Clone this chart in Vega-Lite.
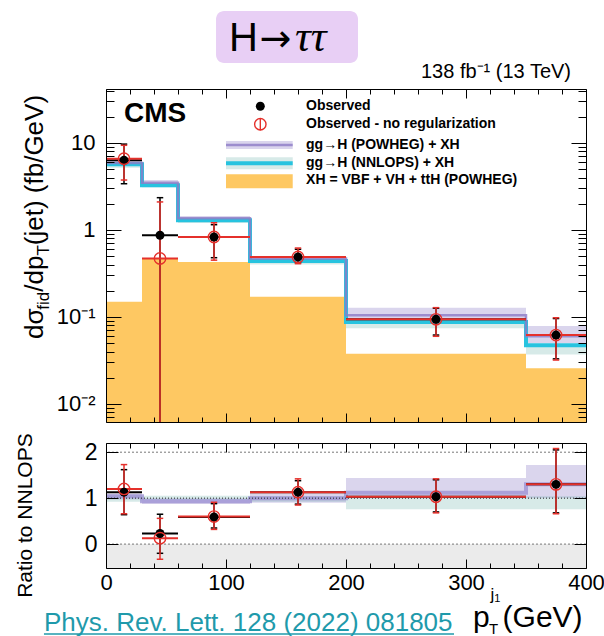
{
"$schema": "https://vega.github.io/schema/vega-lite/v6.json",
"background": "white",
"padding": {"left": 14, "top": 10, "right": 0, "bottom": 0},
"spacing": 21,
"bounds": "flush",
"config": {"view": {"stroke": null}, "font": "Liberation Sans",
  "axis": {"domainColor": "#000", "domainWidth": 1, "tickColor": "#000", "tickWidth": 1, "labelColor": "#000", "labelFont": "Liberation Sans", "grid": false}},
"datasets": {
 "bins": [
  {"lo":0,"hi":30,"xc":15,"xh":0.150,"nnLo":5.2,"nnHi":5.95,"pwLo":5.5,"pwHi":6.3,"obs":6.33,"obsLo":3.4,"obsHi":9.7,"nr":6.6,"nrLo":3.75,"nrHi":9.4,"rObs":1.13,"rObsLo":0.64,"rObsHi":1.62,"rNr":1.2,"rNrLo":0.66,"rNrHi":1.73,"rPwLo":0.97,"rPwHi":1.10,"rNnLo":0.92,"rNnHi":1.06},
  {"lo":30,"hi":60,"xc":45,"xh":0.476,"nnLo":3.1,"nnHi":3.35,"pwLo":3.3,"pwHi":3.75,"obs":0.87,"obsLo":0.0001,"obsHi":2.35,"nr":0.47,"nrLo":0.0001,"nrHi":2.1,"rObs":0.23,"rObsLo":-0.2,"rObsHi":0.65,"rNr":0.13,"rNrLo":-0.33,"rNrHi":0.56,"rPwLo":0.87,"rPwHi":1.0,"rNnLo":0.96,"rNnHi":1.05},
  {"lo":60,"hi":120,"xc":90,"xh":0.428,"nnLo":1.2,"nnHi":1.32,"pwLo":1.29,"pwHi":1.45,"obs":0.83,"obsLo":0.48,"obsHi":1.15,"nr":0.83,"nrLo":0.45,"nrHi":1.21,"rObs":0.59,"rObsLo":0.35,"rObsHi":0.88,"rNr":0.6,"rNrLo":0.32,"rNrHi":0.91,"rPwLo":0.87,"rPwHi":1.0,"rNnLo":0.96,"rNnHi":1.05},
  {"lo":120,"hi":200,"xc":160,"xh":0.171,"nnLo":0.40,"nnHi":0.45,"pwLo":0.44,"pwHi":0.50,"obs":0.49,"obsLo":0.42,"obsHi":0.6,"nr":0.49,"nrLo":0.41,"nrHi":0.62,"rObs":1.13,"rObsLo":0.87,"rObsHi":1.38,"rNr":1.13,"rNrLo":0.85,"rNrHi":1.42,"rPwLo":0.9,"rPwHi":1.1,"rNnLo":0.92,"rNnHi":1.04},
  {"lo":200,"hi":350,"xc":275,"xh":0.0379,"nnLo":0.074,"nnHi":0.09,"pwLo":0.09,"pwHi":0.128,"obs":0.094,"obsLo":0.062,"obsHi":0.126,"nr":0.094,"nrLo":0.06,"nrHi":0.128,"rObs":1.03,"rObsLo":0.7,"rObsHi":1.4,"rNr":1.03,"rNrLo":0.68,"rNrHi":1.42,"rPwLo":1.0,"rPwHi":1.44,"rNnLo":0.76,"rNnHi":1.04},
  {"lo":350,"hi":400,"xc":375,"xh":0.0257,"nnLo":0.037,"nnHi":0.048,"pwLo":0.05,"pwHi":0.079,"obs":0.062,"obsLo":0.033,"obsHi":0.096,"nr":0.062,"nrLo":0.032,"nrHi":0.098,"rObs":1.3,"rObsLo":0.68,"rObsHi":2.05,"rNr":1.3,"rNrLo":0.66,"rNrHi":2.08,"rPwLo":1.0,"rPwHi":1.72,"rNnLo":0.76,"rNnHi":1.04}
 ],
 "edges": [
  {"e":0,"nn":5.69,"pw":5.9,"rPw":1.04},
  {"e":30,"nn":3.27,"pw":3.5,"rPw":0.93},
  {"e":60,"nn":1.29,"pw":1.36,"rPw":0.93},
  {"e":120,"nn":0.44,"pw":0.47,"rPw":1.0},
  {"e":200,"nn":0.0877,"pw":0.105,"rPw":1.12},
  {"e":350,"nn":0.0473,"pw":0.06,"rPw":1.3},
  {"e":400,"nn":0.0473,"pw":0.06,"rPw":1.3}
 ]
},
"vconcat": [
{
 "width": 480, "height": 333,
 "resolve": {"axis": {"x": "independent", "y": "independent"}},
 "layer": [
  {"data": {"name": "bins"}, "mark": {"type": "rect", "fill": "#fec862"},
   "encoding": {
    "x": {"field": "lo", "type": "quantitative", "scale": {"domain": [0,400], "nice": false, "zero": false},
          "axis": {"orient": "bottom", "values": [0,100,200,300,400], "labels": false, "tickSize": -9, "domain": true, "title": null, "zindex": 1}},
    "x2": {"field": "hi"},
    "y": {"field": "xh", "type": "quantitative", "scale": {"type": "log", "domain": [0.00621, 41.7], "nice": false},
          "axis": {"orient": "left", "values": [0.01,0.1,1,10], "ticks": false, "domain": false, "title": null, "labelFontSize": 22, "labelPadding": 11, "labelOverlap": false, "labelFlush": false,
                   "labelExpr": "datum.value > 5 ? '10' : datum.value > 0.5 ? '1' : datum.value > 0.05 ? '10⁻¹' : '10⁻²'"}},
    "y2": {"datum": 0.00621}}},
  {"data": {"name": "bins"}, "mark": {"type": "rect", "fill": "#8c7bc6", "opacity": 0.32},
   "encoding": {
    "x": {"field": "lo", "type": "quantitative", "scale": {"domain": [0,400], "nice": false, "zero": false},
          "axis": {"orient": "top", "values": [0,100,200,300,400], "labels": false, "tickSize": -9, "domain": true, "title": null, "zindex": 1}},
    "x2": {"field": "hi"},
    "y": {"field": "pwLo", "type": "quantitative", "scale": {"type": "log", "domain": [0.00621, 41.7], "nice": false},
          "axis": {"orient": "left", "values": [0.01,0.1,1,10], "labels": false, "tickSize": -15, "domain": true, "title": null, "zindex": 1}},
    "y2": {"field": "pwHi"}}},
  {"data": {"name": "bins"}, "mark": {"type": "rect", "fill": "#6fb5ad", "opacity": 0.28},
   "encoding": {
    "x": {"field": "lo", "type": "quantitative", "scale": {"domain": [0,400], "nice": false, "zero": false},
          "axis": {"orient": "bottom", "values": [20,40,60,80,120,140,160,180,220,240,260,280,320,340,360,380], "labels": false, "tickSize": -5, "domain": false, "title": null, "zindex": 1}},
    "x2": {"field": "hi"},
    "y": {"field": "nnLo", "type": "quantitative", "scale": {"type": "log", "domain": [0.00621, 41.7], "nice": false},
          "axis": {"orient": "right", "values": [0.01,0.1,1,10], "labels": false, "tickSize": -15, "domain": true, "title": null, "zindex": 1}},
    "y2": {"field": "nnHi"}}},
  {"data": {"name": "edges"}, "mark": {"type": "line", "interpolate": "step-after", "stroke": "#27c3df", "strokeWidth": 4},
   "encoding": {
    "x": {"field": "e", "type": "quantitative", "scale": {"domain": [0,400], "nice": false, "zero": false},
          "axis": {"orient": "top", "values": [20,40,60,80,120,140,160,180,220,240,260,280,320,340,360,380], "labels": false, "tickSize": -5, "domain": false, "title": null, "zindex": 1}},
    "y": {"field": "nn", "type": "quantitative", "scale": {"type": "log", "domain": [0.00621, 41.7], "nice": false},
          "axis": {"orient": "left", "values": [0.007,0.008,0.009,0.02,0.03,0.04,0.05,0.06,0.07,0.08,0.09,0.2,0.3,0.4,0.5,0.6,0.7,0.8,0.9,2,3,4,5,6,7,8,9,20,30,40], "labels": false, "tickSize": -8, "domain": false, "title": null, "zindex": 1}}}},
  {"data": {"name": "edges"}, "mark": {"type": "line", "interpolate": "step-after", "stroke": "#8c7bc6", "strokeWidth": 2.5, "opacity": 0.8},
   "encoding": {
    "x": {"field": "e", "type": "quantitative", "scale": {"domain": [0,400], "nice": false, "zero": false}, "axis": null},
    "y": {"field": "pw", "type": "quantitative", "scale": {"type": "log", "domain": [0.00621, 41.7], "nice": false},
          "axis": {"orient": "right", "values": [0.007,0.008,0.009,0.02,0.03,0.04,0.05,0.06,0.07,0.08,0.09,0.2,0.3,0.4,0.5,0.6,0.7,0.8,0.9,2,3,4,5,6,7,8,9,20,30,40], "labels": false, "tickSize": -8, "domain": false, "title": null, "zindex": 1}}}},
  {"data": {"name": "bins"}, "mark": {"type": "rule", "stroke": "#000", "strokeWidth": 2, "clip": true},
   "encoding": {"x": {"field": "lo", "type": "quantitative", "axis": null}, "x2": {"field": "hi"}, "y": {"field": "obs", "type": "quantitative", "axis": null}}},
  {"data": {"name": "bins"}, "mark": {"type": "rule", "stroke": "#000", "strokeWidth": 1.5, "clip": true},
   "encoding": {"x": {"field": "xc", "type": "quantitative", "axis": null}, "y": {"field": "obsLo", "type": "quantitative", "axis": null}, "y2": {"field": "obsHi"}}},
  {"data": {"name": "bins"}, "mark": {"type": "point", "shape": "M-1,0L1,0", "size": 42, "filled": false, "stroke": "#000", "strokeWidth": 1.5, "opacity": 1, "clip": true},
   "encoding": {"x": {"field": "xc", "type": "quantitative", "axis": null}, "y": {"field": "obsLo", "type": "quantitative", "axis": null}}},
  {"data": {"name": "bins"}, "mark": {"type": "point", "shape": "M-1,0L1,0", "size": 42, "filled": false, "stroke": "#000", "strokeWidth": 1.5, "opacity": 1, "clip": true},
   "encoding": {"x": {"field": "xc", "type": "quantitative", "axis": null}, "y": {"field": "obsHi", "type": "quantitative", "axis": null}}},
  {"data": {"name": "bins"}, "mark": {"type": "rule", "stroke": "#e5302b", "strokeWidth": 2, "clip": true},
   "encoding": {"x": {"field": "lo", "type": "quantitative", "axis": null}, "x2": {"field": "hi"}, "y": {"field": "nr", "type": "quantitative", "axis": null}}},
  {"data": {"name": "bins"}, "mark": {"type": "rule", "stroke": "#e5302b", "strokeWidth": 1.5, "clip": true},
   "encoding": {"x": {"field": "xc", "type": "quantitative", "axis": null}, "y": {"field": "nrLo", "type": "quantitative", "axis": null}, "y2": {"field": "nrHi"}}},
  {"data": {"name": "bins"}, "mark": {"type": "point", "shape": "M-1,0L1,0", "size": 42, "filled": false, "stroke": "#e5302b", "strokeWidth": 1.5, "opacity": 1, "clip": true},
   "encoding": {"x": {"field": "xc", "type": "quantitative", "axis": null}, "y": {"field": "nrLo", "type": "quantitative", "axis": null}}},
  {"data": {"name": "bins"}, "mark": {"type": "point", "shape": "M-1,0L1,0", "size": 42, "filled": false, "stroke": "#e5302b", "strokeWidth": 1.5, "opacity": 1, "clip": true},
   "encoding": {"x": {"field": "xc", "type": "quantitative", "axis": null}, "y": {"field": "nrHi", "type": "quantitative", "axis": null}}},
  {"data": {"name": "bins"}, "mark": {"type": "point", "shape": "circle", "size": 80, "filled": true, "fill": "#000", "opacity": 1},
   "encoding": {"x": {"field": "xc", "type": "quantitative", "axis": null}, "y": {"field": "obs", "type": "quantitative", "axis": null}}},
  {"data": {"name": "bins"}, "mark": {"type": "point", "shape": "circle", "size": 130, "filled": false, "stroke": "#e5302b", "strokeWidth": 1.4, "opacity": 1},
   "encoding": {"x": {"field": "xc", "type": "quantitative", "axis": null}, "y": {"field": "nr", "type": "quantitative", "axis": null}}},
  {"data": {"values": [{"a":100,"b":155.6,"c":8.53,"d":10.5}]}, "mark": {"type": "rect", "fill": "#8c7bc6", "opacity": 0.32},
   "encoding": {"x": {"field": "a", "type": "quantitative", "axis": null}, "x2": {"field": "b"}, "y": {"field": "c", "type": "quantitative", "axis": null}, "y2": {"field": "d"}}},
  {"data": {"values": [{"a":100,"b":155.6,"c":9.5}]}, "mark": {"type": "rule", "stroke": "#8c7bc6", "strokeWidth": 2.5, "opacity": 0.8},
   "encoding": {"x": {"field": "a", "type": "quantitative", "axis": null}, "x2": {"field": "b"}, "y": {"field": "c", "type": "quantitative", "axis": null}}},
  {"data": {"values": [{"a":100,"b":155.6,"c":4.99,"d":6.85}]}, "mark": {"type": "rect", "fill": "#6fb5ad", "opacity": 0.28},
   "encoding": {"x": {"field": "a", "type": "quantitative", "axis": null}, "x2": {"field": "b"}, "y": {"field": "c", "type": "quantitative", "axis": null}, "y2": {"field": "d"}}},
  {"data": {"values": [{"a":100,"b":155.6,"c":5.85}]}, "mark": {"type": "rule", "stroke": "#27c3df", "strokeWidth": 4},
   "encoding": {"x": {"field": "a", "type": "quantitative", "axis": null}, "x2": {"field": "b"}, "y": {"field": "c", "type": "quantitative", "axis": null}}},
  {"data": {"values": [{"a":100,"b":155.6,"c":3.02,"d":4.37}]}, "mark": {"type": "rect", "fill": "#fec862"},
   "encoding": {"x": {"field": "a", "type": "quantitative", "axis": null}, "x2": {"field": "b"}, "y": {"field": "c", "type": "quantitative", "axis": null}, "y2": {"field": "d"}}},
  {"data": {"values": [{"a":128.6,"c":26.4}]}, "mark": {"type": "point", "shape": "circle", "size": 80, "filled": true, "fill": "#000", "opacity": 1},
   "encoding": {"x": {"field": "a", "type": "quantitative", "axis": null}, "y": {"field": "c", "type": "quantitative", "axis": null}}},
  {"data": {"values": [{"a":128.6,"c":16.4}]}, "mark": {"type": "point", "shape": "circle", "size": 130, "filled": false, "stroke": "#e5302b", "strokeWidth": 1.4, "opacity": 1},
   "encoding": {"x": {"field": "a", "type": "quantitative", "axis": null}, "y": {"field": "c", "type": "quantitative", "axis": null}}},
  {"data": {"values": [{"a":128.6,"c":16.4}]}, "mark": {"type": "point", "shape": "M0,-1L0,1", "size": 144, "filled": false, "stroke": "#e5302b", "strokeWidth": 1.4, "opacity": 1},
   "encoding": {"x": {"field": "a", "type": "quantitative", "axis": null}, "y": {"field": "c", "type": "quantitative", "axis": null}}},
  {"data": {"values": [{"x":15,"y":17.4,"t":"CMS"}]}, "mark": {"type": "text", "font": "Liberation Sans", "fontSize": 28, "fontWeight": "bold", "align": "left", "baseline": "alphabetic", "color": "#000"},
   "encoding": {"x": {"field": "x", "type": "quantitative", "axis": null}, "y": {"field": "y", "type": "quantitative", "axis": null}, "text": {"field": "t"}}},
  {"data": {"values": [
     {"x":166.7,"y":26.4,"t":"Observed"},
     {"x":166.7,"y":16.4,"t":"Observed - no regularization"},
     {"x":166.7,"y":9.5,"t":"gg→H (POWHEG) + XH"},
     {"x":166.7,"y":5.85,"t":"gg→H (NNLOPS) + XH"},
     {"x":166.7,"y":3.76,"t":"XH = VBF + VH + ttH (POWHEG)"}]},
   "mark": {"type": "text", "font": "Liberation Sans", "fontSize": 14, "fontWeight": "bold", "align": "left", "baseline": "middle", "color": "#000"},
   "encoding": {"x": {"field": "x", "type": "quantitative", "axis": null}, "y": {"field": "y", "type": "quantitative", "axis": null}, "text": {"field": "t"}}},
  {"data": {"values": [{"x":387.5,"y":55.9,"t":"138 fb⁻¹ (13 TeV)"}]}, "mark": {"type": "text", "font": "Liberation Sans", "fontSize": 20, "align": "right", "baseline": "alphabetic", "color": "#000"},
   "encoding": {"x": {"field": "x", "type": "quantitative", "axis": null}, "y": {"field": "y", "type": "quantitative", "axis": null}, "text": {"field": "t"}}},
  {"data": {"values": [{"a":91.7,"b":210,"c":83.2,"d":329}]}, "mark": {"type": "rect", "fill": "#e8cff5", "cornerRadius": 8},
   "encoding": {"x": {"field": "a", "type": "quantitative", "axis": null}, "x2": {"field": "b"}, "y": {"field": "c", "type": "quantitative", "axis": null}, "y2": {"field": "d"}}},
  {"data": {"values": [{"x":102.5,"y":115,"t":"H"}]}, "mark": {"type": "text", "font": "Liberation Sans", "fontSize": 40, "align": "left", "baseline": "alphabetic", "color": "#000"},
   "encoding": {"x": {"field": "x", "type": "quantitative", "axis": null}, "y": {"field": "y", "type": "quantitative", "axis": null}, "text": {"field": "t"}}},
  {"data": {"values": [{"x":128,"y":115,"t":"→"}]}, "mark": {"type": "text", "font": "DejaVu Sans", "fontSize": 38, "align": "left", "baseline": "alphabetic", "color": "#000"},
   "encoding": {"x": {"field": "x", "type": "quantitative", "axis": null}, "y": {"field": "y", "type": "quantitative", "axis": null}, "text": {"field": "t"}}},
  {"data": {"values": [{"x":157.5,"y":115,"t":"ττ"}]}, "mark": {"type": "text", "font": "Liberation Serif", "fontSize": 44, "fontStyle": "italic", "align": "left", "baseline": "alphabetic", "color": "#000"},
   "encoding": {"x": {"field": "x", "type": "quantitative", "axis": null}, "y": {"field": "y", "type": "quantitative", "axis": null}, "text": {"field": "t"}}},
  {"data": {"values": [{"x":-52.75,"y":0.05587,"t":"dσ"},{"x":-52.75,"y":0.1953,"t":"/dp"},{"x":-52.75,"y":0.6688,"t":"(jet) (fb/GeV)"}]},
   "mark": {"type": "text", "font": "Liberation Sans", "fontSize": 26, "angle": 270, "align": "left", "baseline": "alphabetic", "color": "#000"},
   "encoding": {"x": {"field": "x", "type": "quantitative", "axis": null}, "y": {"field": "y", "type": "quantitative", "axis": null}, "text": {"field": "t"}}},
  {"data": {"values": [{"x":-47.9,"y":0.1213,"t":"fid"},{"x":-47.9,"y":0.5078,"t":"T"}]},
   "mark": {"type": "text", "font": "Liberation Sans", "fontSize": 17, "angle": 270, "align": "left", "baseline": "alphabetic", "color": "#000"},
   "encoding": {"x": {"field": "x", "type": "quantitative", "axis": null}, "y": {"field": "y", "type": "quantitative", "axis": null}, "text": {"field": "t"}}}
 ]
},
{
 "width": 480, "height": 125,
 "resolve": {"axis": {"x": "independent", "y": "independent"}},
 "layer": [
  {"data": {"values": [{"a":0,"b":400,"c":-0.52,"d":0}]}, "mark": {"type": "rect", "fill": "#cfcfcf", "opacity": 0.42},
   "encoding": {
    "x": {"field": "a", "type": "quantitative", "scale": {"domain": [0,400], "nice": false, "zero": false},
          "axis": {"orient": "bottom", "values": [0,100,200,300,400], "ticks": false, "domain": false, "title": null, "labelFontSize": 22, "labelPadding": 4, "labelFlush": false, "labelOverlap": false}},
    "x2": {"field": "b"},
    "y": {"field": "c", "type": "quantitative", "scale": {"domain": [-0.52, 2.2], "nice": false, "zero": false},
          "axis": {"orient": "left", "values": [0,1,2], "ticks": false, "domain": false, "title": null, "labelFontSize": 23, "labelPadding": 9, "labelFlush": false, "labelOverlap": false}},
    "y2": {"field": "d"}}},
  {"data": {"name": "bins"}, "mark": {"type": "rect", "fill": "#8c7bc6", "opacity": 0.32},
   "encoding": {
    "x": {"field": "lo", "type": "quantitative", "scale": {"domain": [0,400], "nice": false, "zero": false},
          "axis": {"orient": "bottom", "values": [0,100,200,300,400], "labels": false, "tickSize": -9, "domain": true, "title": null, "zindex": 1}},
    "x2": {"field": "hi"},
    "y": {"field": "rPwLo", "type": "quantitative", "scale": {"domain": [-0.52, 2.2], "nice": false, "zero": false},
          "axis": {"orient": "left", "values": [0,1,2], "labels": false, "tickSize": -12, "domain": true, "title": null, "zindex": 1}},
    "y2": {"field": "rPwHi"}}},
  {"data": {"name": "bins"}, "mark": {"type": "rect", "fill": "#6fb5ad", "opacity": 0.28},
   "encoding": {
    "x": {"field": "lo", "type": "quantitative", "scale": {"domain": [0,400], "nice": false, "zero": false},
          "axis": {"orient": "top", "values": [0,100,200,300,400], "labels": false, "tickSize": -9, "domain": true, "title": null, "zindex": 1}},
    "x2": {"field": "hi"},
    "y": {"field": "rNnLo", "type": "quantitative", "scale": {"domain": [-0.52, 2.2], "nice": false, "zero": false},
          "axis": {"orient": "right", "values": [0,1,2], "labels": false, "tickSize": -12, "domain": true, "title": null, "zindex": 1}},
    "y2": {"field": "rNnHi"}}},
  {"data": {"name": "edges"}, "mark": {"type": "line", "interpolate": "step-after", "stroke": "#9a8dd2", "strokeWidth": 4, "opacity": 0.75},
   "encoding": {
    "x": {"field": "e", "type": "quantitative", "scale": {"domain": [0,400], "nice": false, "zero": false},
          "axis": {"orient": "bottom", "values": [20,40,60,80,120,140,160,180,220,240,260,280,320,340,360,380], "labels": false, "tickSize": -5, "domain": false, "title": null, "zindex": 1}},
    "y": {"field": "rPw", "type": "quantitative", "scale": {"domain": [-0.52, 2.2], "nice": false, "zero": false}, "axis": null}}},
  {"data": {"values": [{"r":0},{"r":2}]}, "mark": {"type": "rule", "stroke": "#777", "strokeWidth": 1, "strokeDash": [2,2]},
   "encoding": {"y": {"field": "r", "type": "quantitative", "axis": null}}},
  {"data": {"values": [{"r":1}]}, "mark": {"type": "rule", "stroke": "#222", "strokeWidth": 1, "strokeDash": [1,2]},
   "encoding": {"y": {"field": "r", "type": "quantitative", "axis": null}}},
  {"data": {"name": "bins"}, "mark": {"type": "rule", "stroke": "#000", "strokeWidth": 2, "clip": true},
   "encoding": {"x": {"field": "lo", "type": "quantitative",
          "axis": {"orient": "top", "values": [20,40,60,80,120,140,160,180,220,240,260,280,320,340,360,380], "labels": false, "tickSize": -5, "domain": false, "title": null, "zindex": 1}},
    "x2": {"field": "hi"}, "y": {"field": "rObs", "type": "quantitative", "axis": null}}},
  {"data": {"name": "bins"}, "mark": {"type": "rule", "stroke": "#000", "strokeWidth": 1.5, "clip": true},
   "encoding": {"x": {"field": "xc", "type": "quantitative", "axis": null}, "y": {"field": "rObsLo", "type": "quantitative", "axis": null}, "y2": {"field": "rObsHi"}}},
  {"data": {"name": "bins"}, "mark": {"type": "point", "shape": "M-1,0L1,0", "size": 42, "filled": false, "stroke": "#000", "strokeWidth": 1.5, "opacity": 1, "clip": true},
   "encoding": {"x": {"field": "xc", "type": "quantitative", "axis": null}, "y": {"field": "rObsLo", "type": "quantitative", "axis": null}}},
  {"data": {"name": "bins"}, "mark": {"type": "point", "shape": "M-1,0L1,0", "size": 42, "filled": false, "stroke": "#000", "strokeWidth": 1.5, "opacity": 1, "clip": true},
   "encoding": {"x": {"field": "xc", "type": "quantitative", "axis": null}, "y": {"field": "rObsHi", "type": "quantitative", "axis": null}}},
  {"data": {"name": "bins"}, "mark": {"type": "rule", "stroke": "#e5302b", "strokeWidth": 2, "clip": true},
   "encoding": {"x": {"field": "lo", "type": "quantitative", "axis": null}, "x2": {"field": "hi"}, "y": {"field": "rNr", "type": "quantitative", "axis": null}}},
  {"data": {"name": "bins"}, "mark": {"type": "rule", "stroke": "#e5302b", "strokeWidth": 1.5, "clip": true},
   "encoding": {"x": {"field": "xc", "type": "quantitative", "axis": null}, "y": {"field": "rNrLo", "type": "quantitative", "axis": null}, "y2": {"field": "rNrHi"}}},
  {"data": {"name": "bins"}, "mark": {"type": "point", "shape": "M-1,0L1,0", "size": 42, "filled": false, "stroke": "#e5302b", "strokeWidth": 1.5, "opacity": 1, "clip": true},
   "encoding": {"x": {"field": "xc", "type": "quantitative", "axis": null}, "y": {"field": "rNrLo", "type": "quantitative", "axis": null}}},
  {"data": {"name": "bins"}, "mark": {"type": "point", "shape": "M-1,0L1,0", "size": 42, "filled": false, "stroke": "#e5302b", "strokeWidth": 1.5, "opacity": 1, "clip": true},
   "encoding": {"x": {"field": "xc", "type": "quantitative", "axis": null}, "y": {"field": "rNrHi", "type": "quantitative", "axis": null}}},
  {"data": {"name": "bins"}, "mark": {"type": "point", "shape": "circle", "size": 80, "filled": true, "fill": "#000", "opacity": 1},
   "encoding": {"x": {"field": "xc", "type": "quantitative", "axis": null}, "y": {"field": "rObs", "type": "quantitative", "axis": null}}},
  {"data": {"name": "bins"}, "mark": {"type": "point", "shape": "circle", "size": 130, "filled": false, "stroke": "#e5302b", "strokeWidth": 1.4, "opacity": 1},
   "encoding": {"x": {"field": "xc", "type": "quantitative", "axis": null}, "y": {"field": "rNr", "type": "quantitative", "axis": null}}},
  {"data": {"values": [{"x":-61.7,"y":-1.17,"t":"Ratio to NNLOPS"}]}, "mark": {"type": "text", "font": "Liberation Sans", "fontSize": 21, "angle": 270, "align": "left", "baseline": "alphabetic", "color": "#000"},
   "encoding": {"x": {"field": "x", "type": "quantitative", "axis": null}, "y": {"field": "y", "type": "quantitative", "axis": null}, "text": {"field": "t"}}},
  {"data": {"values": [{"x":-51.7,"y":-1.891,"t":"Phys. Rev. Lett. 128 (2022) 081805"}]}, "mark": {"type": "text", "font": "Liberation Sans", "fontSize": 26, "align": "left", "baseline": "alphabetic", "color": "#1f9aab"},
   "encoding": {"x": {"field": "x", "type": "quantitative", "axis": null}, "y": {"field": "y", "type": "quantitative", "axis": null}, "text": {"field": "t"}}},
  {"data": {"values": [{"a":-51.7,"b":290,"c":-1.957}]}, "mark": {"type": "rule", "stroke": "#1f9aab", "strokeWidth": 1.5},
   "encoding": {"x": {"field": "a", "type": "quantitative", "axis": null}, "x2": {"field": "b"}, "y": {"field": "c", "type": "quantitative", "axis": null}}},
  {"data": {"values": [{"x":305.8,"y":-1.804,"t":"p"},{"x":330.5,"y":-1.804,"t":"(GeV)"}]}, "mark": {"type": "text", "font": "Liberation Sans", "fontSize": 30, "align": "left", "baseline": "alphabetic", "color": "#000"},
   "encoding": {"x": {"field": "x", "type": "quantitative", "axis": null}, "y": {"field": "y", "type": "quantitative", "axis": null}, "text": {"field": "t"}}},
  {"data": {"values": [{"x":319.2,"y":-1.95,"t":"T"}]}, "mark": {"type": "text", "font": "Liberation Sans", "fontSize": 15, "align": "left", "baseline": "alphabetic", "color": "#000"},
   "encoding": {"x": {"field": "x", "type": "quantitative", "axis": null}, "y": {"field": "y", "type": "quantitative", "axis": null}, "text": {"field": "t"}}},
  {"data": {"values": [{"x":320.4,"y":-1.22,"t":"j"}]}, "mark": {"type": "text", "font": "Liberation Sans", "fontSize": 17, "align": "left", "baseline": "alphabetic", "color": "#000"},
   "encoding": {"x": {"field": "x", "type": "quantitative", "axis": null}, "y": {"field": "y", "type": "quantitative", "axis": null}, "text": {"field": "t"}}},
  {"data": {"values": [{"x":323.6,"y":-1.27,"t":"1"}]}, "mark": {"type": "text", "font": "Liberation Sans", "fontSize": 11, "align": "left", "baseline": "alphabetic", "color": "#000"},
   "encoding": {"x": {"field": "x", "type": "quantitative", "axis": null}, "y": {"field": "y", "type": "quantitative", "axis": null}, "text": {"field": "t"}}}
 ]
}
]
}
